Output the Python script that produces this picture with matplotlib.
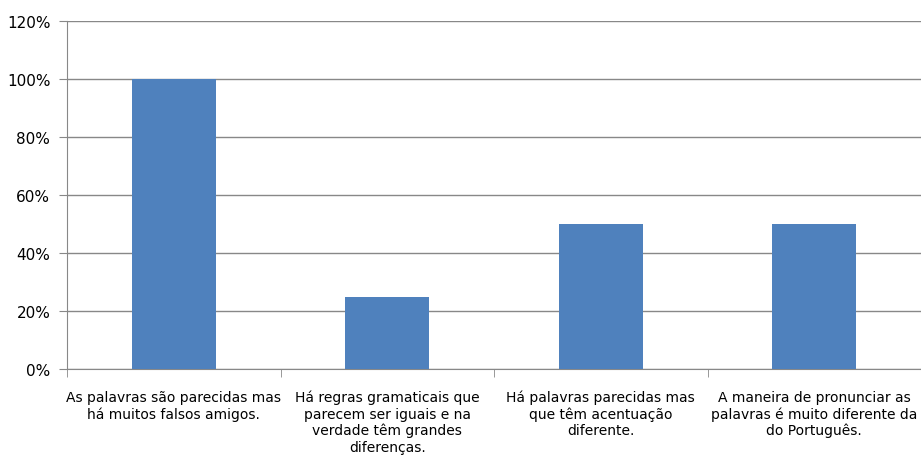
import matplotlib.pyplot as plt
from matplotlib.ticker import PercentFormatter

categories = [
    "As palavras são parecidas mas\nhá muitos falsos amigos.",
    "Há regras gramaticais que\nparecem ser iguais e na\nverdade têm grandes\ndiferenças.",
    "Há palavras parecidas mas\nque têm acentuação\ndiferente.",
    "A maneira de pronunciar as\npalavras é muito diferente da\ndo Português.",
]
values = [100, 25, 50, 50]
y_ticks = [0, 20, 40, 60, 80, 100, 120]

plt.rcParams['font.family'] = ['DejaVu Sans']

fig = plt.figure(figsize=(9.21, 4.56), dpi=100)
ax = fig.add_axes([67 / 921, 1 - 370 / 456, 1 - 67 / 921, (370 - 22) / 456])

x = list(range(len(categories)))
ax.bar(x, values, width=0.395, color="#4F81BD", zorder=3)

ax.set_xlim(-0.5, len(categories) - 0.5)
ax.set_ylim(0, 120)
ax.set_yticks(y_ticks)
ax.yaxis.set_major_formatter(PercentFormatter(decimals=0))
ax.grid(axis="y", color="#888888", linewidth=1, zorder=0)

ax.set_xticks(x)
ax.set_xticklabels(categories, fontsize=10, linespacing=1.2, va="top")
ax.tick_params(axis="x", length=0, pad=15)
ax.set_xticks([i - 0.5 for i in range(len(categories) + 1)], minor=True)
ax.tick_params(axis="x", which="minor", length=6, color="#888888")
ax.tick_params(axis="y", length=6, color="#888888", labelsize=11, pad=6)

for side in ["top", "right"]:
    ax.spines[side].set_visible(False)
for side in ["left", "bottom"]:
    ax.spines[side].set_color("#888888")

fig.savefig("out.png", dpi=100)
